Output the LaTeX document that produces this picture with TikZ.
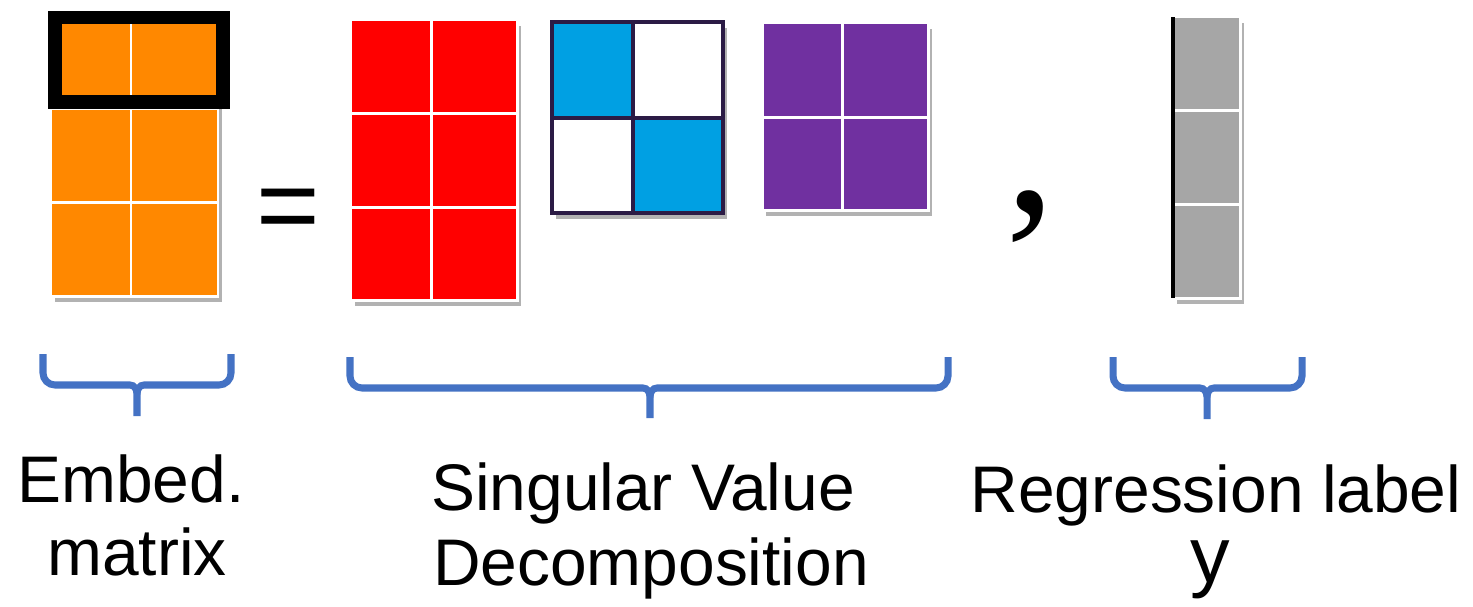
\documentclass[tikz,border=0pt]{standalone}
\usepackage{fontspec}
\setmainfont{Liberation Sans}
\newfontfamily\commafont{Liberation Serif}
\usetikzlibrary{shadows}
\definecolor{orangeM}{RGB}{255,136,0}
\definecolor{redM}{RGB}{255,0,0}
\definecolor{blueM}{RGB}{0,160,227}
\definecolor{purpleM}{RGB}{112,48,160}
\definecolor{grayM}{RGB}{166,166,166}
\definecolor{edgeM}{RGB}{43,27,69}
\definecolor{braceblue}{RGB}{68,114,196}
\tikzset{
  grid/.style={draw=white, line width=1.7pt},
  shade/.style={drop shadow={shadow xshift=2.5pt, shadow yshift=-3.5pt, opacity=0.3, fill=black}},
  brace/.style={draw=braceblue, line width=4pt},
  lbl/.style={anchor=base, font=\fontsize{37.5}{42}\selectfont}
}
% bracket under a group: left, right, tip x, top, bar, tip
\newcommand{\ubrace}[6]{%
  \draw[brace] (#1,#4) -- (#1,#5-12) to[out=-90,in=180] (#1+12,#5) -- (#3-7,#5)
     to[out=0,in=90] (#3,#5+9) -- (#3,#6);
  \draw[brace] (#2,#4) -- (#2,#5-12) to[out=-90,in=0] (#2-12,#5) -- (#3+7,#5)
     to[out=180,in=90] (#3,#5+9);
}

\begin{document}
\begin{tikzpicture}[x=0.02cm,y=-0.02cm]
\path[use as bounding box, fill=white] (0,0) rectangle (1473,606);

% embedding matrix
\fill[orangeM, shade] (51,14) rectangle (218,296);
\draw[grid] (51,14) rectangle (218,296);
\foreach \y in {108,202} \draw[grid] (51,\y) -- (218,\y);
\draw[grid] (131,14) -- (131,296);
\draw[line width=7.7pt] (55,17.5) rectangle (223,102);

\node[font=\fontsize{62}{62}\selectfont, anchor=base] (eq) at (288,242) {=};

% U
\fill[redM, shade] (351,20) rectangle (517,300);
\draw[grid] (351,20) rectangle (517,300);
\foreach \y in {113,207} \draw[grid] (351,\y) -- (517,\y);
\draw[grid] (431,20) -- (431,300);

% S
\fill[white, shade] (552,22) rectangle (723,213);
\fill[blueM] (552,22) rectangle (633,118);
\fill[blueM] (633,118) rectangle (723,213);
\draw[draw=edgeM, line width=2pt] (552,22) rectangle (723,213);
\draw[draw=edgeM, line width=2pt] (633,22) -- (633,213);
\draw[draw=edgeM, line width=2pt] (552,118) -- (723,118);

% V
\fill[purpleM, shade] (762,23) rectangle (928,210);
\draw[grid] (762,23) rectangle (928,210);
\draw[grid] (762,117) -- (928,117);
\draw[grid] (842,23) -- (842,210);

\node[font=\commafont\fontsize{115}{115}\selectfont, anchor=base] (comma) at (1031,211) {,};

% label vector
\fill[grayM, shade] (1173,17) rectangle (1240,298);
\draw[grid] (1173,17) rectangle (1240,298);
\foreach \y in {110,204} \draw[grid] (1173,\y) -- (1240,\y);
\draw[line width=1.8pt] (1173,17) -- (1173,298);

\ubrace{43}{231}{137}{354}{385}{416}
\ubrace{350}{948}{650}{357}{388}{418}
\ubrace{1113}{1302}{1207}{357}{388}{419}

\node[lbl] (emb) at (131,502) {Embed.};
\node[lbl] (mat) at (137,575) {matrix};
\node[lbl] (svd) at (643,510) {Singular Value};
\node[lbl] (dec) at (651,585) {Decomposition};
\node[lbl] (reg) at (1216,512) {Regression label};
\node[lbl, font=\fontsize{45}{50}\selectfont] (yl) at (1210,582) {y};
\end{tikzpicture}
\end{document}
